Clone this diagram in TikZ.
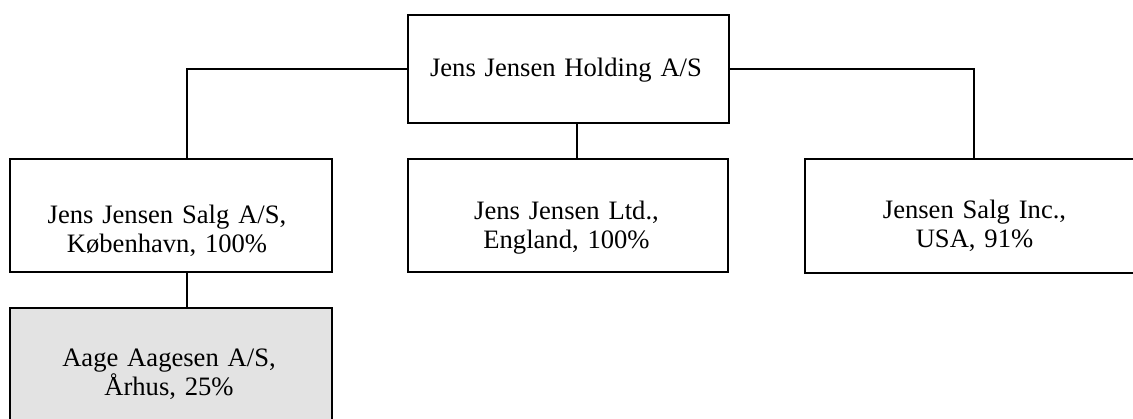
\documentclass[tikz,border=0pt]{standalone}
\usepackage{fontspec}
\setmainfont{Liberation Serif}
\definecolor{boxgray}{HTML}{E3E3E3}
\begin{document}
\begin{tikzpicture}[x=0.5pt,y=-0.5pt,
  box/.style={draw=black,line width=1pt,inner sep=0pt,anchor=north west,fill=white},
  txt/.style={anchor=base,inner sep=0pt,text width=160pt,align=center,
    font=\fontsize{13.3pt}{14.75pt}\selectfont},
  link/.style={draw=black,line width=1pt}]
\useasboundingbox (0,0) rectangle (1133,418);
\begin{scope}
\clip (0,0) rectangle (1133,418);
\node[box,minimum width=160.5pt,minimum height=54pt] (top) at (407,14) {};
\node[box,minimum width=161pt,minimum height=56.5pt] (left) at (9,158) {};
\node[box,minimum width=160pt,minimum height=56.5pt] (mid) at (407,158) {};
\node[box,minimum width=170.5pt,minimum height=57pt] (right) at (804,158) {};
\node[box,fill=boxgray,minimum width=161pt,minimum height=66.5pt] (bot) at (9,307) {};
\end{scope}
\node[txt] (ttop) at (566,76) {Jens Jensen Holding A/S};
\node[txt] (tleft) at (167,223) {Jens Jensen Salg A/S,\\København, 100\%};
\node[txt] (tmid) at (566.5,219) {Jens Jensen Ltd.,\\England, 100\%};
\node[txt] (tright) at (974.5,218) {Jensen Salg Inc.,\\USA, 91\%};
\node[txt] (tbot) at (169,366) {Aage Aagesen A/S,\\Århus, 25\%};
\draw[link] (407,67 |- top.west) -| (187,0 |- left.north);
\draw[link] (728,67 |- top.east) -| (974,0 |- right.north);
\draw[link] (577,0 |- top.south) -- (577,0 |- mid.north);
\draw[link] (187,0 |- left.south) -- (187,0 |- bot.north);
\end{tikzpicture}
\end{document}
